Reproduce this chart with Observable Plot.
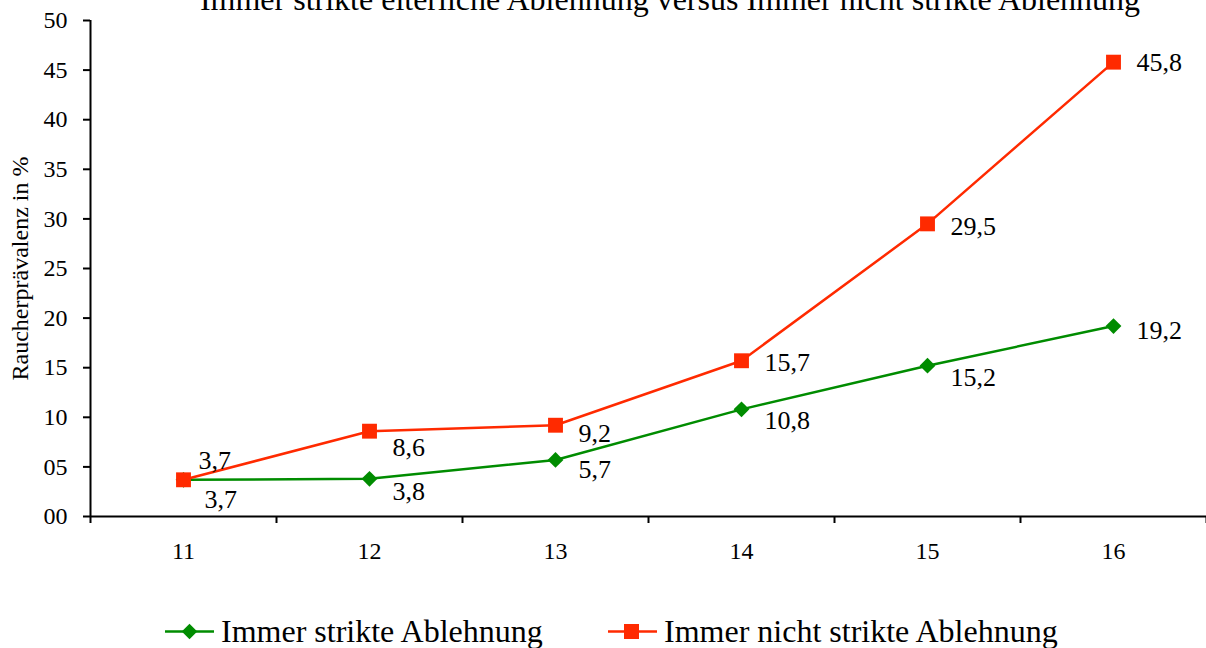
<!DOCTYPE html>
<html>
<head>
<meta charset="utf-8">
<script src="https://cdn.jsdelivr.net/npm/d3@7"></script>
<script src="https://cdn.jsdelivr.net/npm/@observablehq/plot@0.6"></script>
<style>
  html, body { margin: 0; padding: 0; background: #fff; overflow: hidden; }
  body { width: 1206px; height: 648px; position: relative; font-family: "Liberation Serif", "Times New Roman", serif; }
  #title { position: absolute; left: 0; width: 1340px; top: -17px; text-align: center; font-size: 32px; line-height: 32px; white-space: nowrap; z-index: 2; }
  #chart { position: absolute; left: 0; top: 0; z-index: 1; }
  .leg { position: absolute; top: 615px; font-size: 32px; line-height: 32px; white-space: nowrap; display: flex; align-items: center; }
  .leg svg { margin-right: 7px; }
</style>
</head>
<body>
<div id="chart"></div>
<div id="title"></div>
<div id="legend"></div>
<script>
const titleText = "Immer strikte elterliche Ablehnung versus Immer nicht strikte Ablehnung";
const yLabel = "Raucherprävalenz in %";
const ages = [11, 12, 13, 14, 15, 16];
const striktValues = [3.7, 3.8, 5.7, 10.8, 15.2, 19.2];
const nichtStriktValues = [3.7, 8.6, 9.2, 15.7, 29.5, 45.8];
const seriesNames = ["Immer strikte Ablehnung", "Immer nicht strikte Ablehnung"];
const yTicks = [0, 5, 10, 15, 20, 25, 30, 35, 40, 45, 50];

const green = "#008c00";
const red = "#ff2a00";

document.getElementById("title").textContent = titleText;

const greenData = ages.map((a, i) => ({age: a, value: striktValues[i], idx: i}));
const redData = ages.map((a, i) => ({age: a, value: nichtStriktValues[i], idx: i}));
const bounds = [ages[0] - 0.5, ...ages.map(a => a + 0.5)];
const fmt = v => d3.format(".1f")(v).replace(".", ",");
const font = "Liberation Serif, Times New Roman, serif";

// label offset styling (per point index)
const redDy = [-19, 16, 8, 2, 3, 1];
const greenDy = [20, 13, 10, 11, 12, 5];
const labelMarks = [];
ages.forEach((a, i) => {
  labelMarks.push(Plot.text(redData.filter(d => d.idx === i), {x: "age", y: "value", text: d => fmt(d.value), textAnchor: "start", dx: i === 0 ? 15 : 23, dy: redDy[i], fontSize: 26, fill: "black"}));
  labelMarks.push(Plot.text(greenData.filter(d => d.idx === i), {x: "age", y: "value", text: d => fmt(d.value), textAnchor: "start", dx: i === 0 ? 21 : 23, dy: greenDy[i], fontSize: 26, fill: "black"}));
});

const plot = Plot.plot({
  width: 1206,
  height: 590,
  marginLeft: 90,
  marginRight: 0,
  marginTop: 20,
  marginBottom: 74,
  style: {fontFamily: font, background: "transparent", overflow: "visible"},
  x: {type: "linear", domain: [bounds[0], bounds[bounds.length - 1]]},
  y: {domain: [0, 50]},
  marks: [
    Plot.axisY({ticks: yTicks, tickSize: 7, tickPadding: 16, tickFormat: d => String(d).padStart(2, "0"), fontSize: 24, label: null, stroke: "black", strokeWidth: 2, color: "black"}),
    Plot.axisX({ticks: bounds, tickSize: 7, tickFormat: () => "", label: null, strokeWidth: 2}),
    Plot.axisX({ticks: ages, tickSize: 0, tickPadding: 25, fontSize: 24, label: null, tickFormat: d => String(d)}),
    Plot.ruleY([0], {stroke: "black", strokeWidth: 2}),
    Plot.ruleX([bounds[0]], {stroke: "black", strokeWidth: 2}),
    Plot.text([yLabel], {frameAnchor: "left", rotate: -90, dx: -70, textAnchor: "middle", text: d => d, fontSize: 24, fill: "black"}),
    Plot.line(greenData, {x: "age", y: "value", stroke: green, strokeWidth: 2.5}),
    Plot.line(redData, {x: "age", y: "value", stroke: red, strokeWidth: 2.5}),
    Plot.dot(greenData, {x: "age", y: "value", symbol: "square", rotate: 45, r: 6.3, fill: green, stroke: "none"}),
    Plot.dot(redData, {x: "age", y: "value", symbol: "square", r: 8.4, fill: red, stroke: "none"}),
    ...labelMarks
  ]
});
document.getElementById("chart").appendChild(plot);

// Legend
const legend = document.getElementById("legend");
const legendLeft = [165, 608];
const legendColors = [green, red];
seriesNames.forEach((name, i) => {
  const item = document.createElement("div");
  item.className = "leg";
  item.style.left = legendLeft[i] + "px";
  const marker = i === 0
    ? `<rect x="19" y="5" width="11" height="11" fill="${green}" transform="rotate(45 24.5 10.5)"/>`
    : `<rect x="16" y="3" width="15" height="15" fill="${red}"/>`;
  item.innerHTML = `<svg width="49" height="21"><line x1="0" x2="49" y1="10.5" y2="10.5" stroke="${legendColors[i]}" stroke-width="2.5"/>${marker}</svg><span>${name}</span>`;
  legend.appendChild(item);
});
</script>
</body>
</html>
